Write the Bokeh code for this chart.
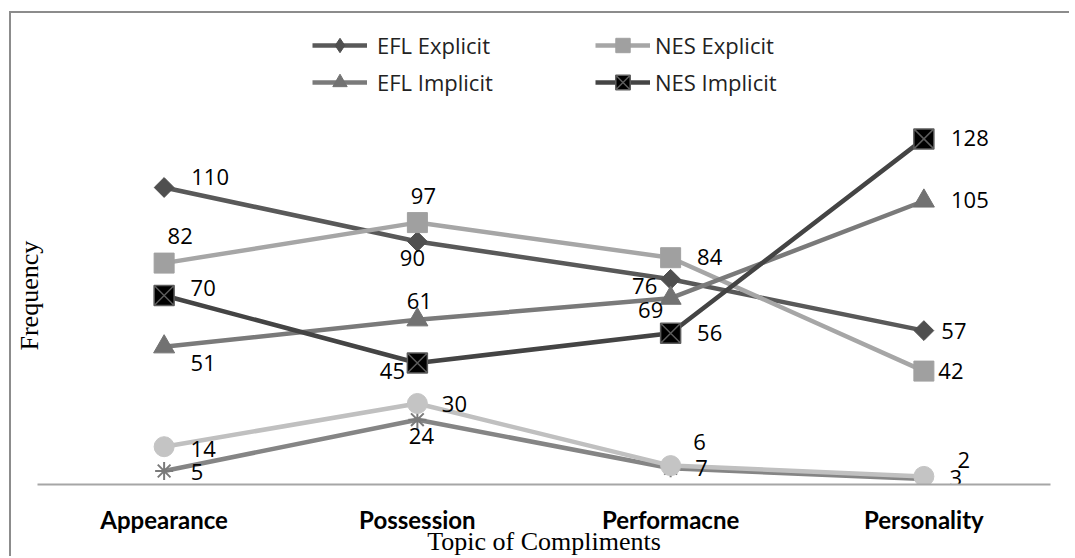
import math
from bokeh.plotting import figure
from bokeh.models import Range1d, FactorRange, Legend, LegendItem, Title
from bokeh.core.properties import value
from bokeh.embed import file_html
from bokeh.resources import INLINE

# ---- data ----
categories = ["Appearance", "Possession", "Performacne", "Personality"]
efl_explicit = [110, 90, 76, 57]
nes_explicit = [82, 97, 84, 42]
efl_implicit = [51, 61, 69, 105]
nes_implicit = [70, 45, 56, 128]
series_circle = [14, 30, 7, 3]
series_star = [5, 24, 6, 2]

# ---- label placement (screen px offsets) ----
off_efl_exp = ([46, -5, -26, 30], [-10, 17, 7, 0])
off_nes_exp = ([16, 6, 39, 27], [-27, -27, -1, 0])
off_efl_imp = ([39, 2, -20, 46], [16, -19, 12, -1])
off_nes_imp = ([39, -25, 39, 46], [-7, 8, 0, -1])
off_circle = ([39, 37, 31, 32], [2, 1, 2, 2])
off_star = ([33, 4, 29, 40], [1, 16, -26, -19])

p = figure(width=1060, height=545, output_backend="svg", toolbar_location=None,
           x_range=FactorRange(*categories), y_range=Range1d(0, 171.85),
           min_border_left=26, min_border_right=21, min_border_top=7, min_border_bottom=74,
           background_fill_color="white", border_fill_color="white")
p.styles = {"border-top": "2px solid #8c8c8c", "border-left": "2px solid #8c8c8c",
            "margin-top": "11px", "margin-left": "9px", "margin-bottom": "-20px"}
p.outline_line_color = None
p.xgrid.grid_line_color = None
p.ygrid.grid_line_color = None
p.yaxis.visible = False

xa = p.xaxis[0]
xa.axis_line_color = "#a6a6a6"
xa.axis_line_width = 2
xa.major_tick_line_color = None
xa.minor_tick_line_color = None
xa.major_label_text_font = "Lato"
xa.major_label_text_font_style = "bold"
xa.major_label_text_font_size = "24px"
xa.major_label_text_color = "black"
xa.major_label_standoff = 14
xa.axis_label = "Topic of Compliments"
xa.axis_label_text_font = "Liberation Serif"
xa.axis_label_text_font_style = "normal"
xa.axis_label_text_font_size = "26px"
xa.axis_label_text_color = "black"
xa.axis_label_standoff = -10

ytitle = Title(text="Frequency", align="left", vertical_align="bottom", offset=134, standoff=-12,
               text_font="Liberation Serif", text_font_style="normal", text_font_size="26px",
               text_color="black")
p.add_layout(ytitle, "left")

LW = 4.5
renderers = {}

def series(name, vals, color, marker, size, fill, mline, angle=0.0, mlw=1.0, legend_marker=None):
    ln = p.line(categories, vals, line_color=color, line_width=LW)
    sc = p.scatter(categories, vals, marker=marker, size=size, fill_color=fill,
                   line_color=mline, line_width=mlw, angle=angle)
    if legend_marker is not None:
        # zero-size twin: invisible in the plot, drawn at legend size in the legend
        proxy = p.scatter(categories, vals, marker=legend_marker, size=0, fill_color=fill,
                          line_color=mline, line_width=mlw)
        renderers[name] = [ln, proxy]
    else:
        renderers[name] = [ln, sc]

series("EFL Explicit", efl_explicit, "#595959", "square", 14, "#4f4f4f", "#4f4f4f",
       angle=math.pi / 4, legend_marker="diamond")
series("NES Explicit", nes_explicit, "#a6a6a6", "square", 20, "#a0a0a0", "#a0a0a0")
series("EFL Implicit", efl_implicit, "#7a7a7a", "triangle", 21, "#727272", "#727272")
series("NES Implicit", nes_implicit, "#444444", "square_x", 20, "black", "#5c5c5c", mlw=1.5)
series("star", series_star, "#858585", "asterisk", 18, None, "#7a7a7a", mlw=2)
series("circle", series_circle, "#c0c0c0", "circle", 20, "#c4c4c4", "#c4c4c4")

def labels(vals, offs):
    p.text(categories, vals, text=[str(v) for v in vals], x_offset=offs[0], y_offset=offs[1],
           text_align="center", text_baseline="middle", text_font=value("Open Sans"),
           text_font_size="22px", text_color="black")

labels(efl_explicit, off_efl_exp)
labels(nes_explicit, off_nes_exp)
labels(efl_implicit, off_efl_imp)
labels(nes_implicit, off_nes_imp)
labels(series_circle, off_circle)
labels(series_star, off_star)

def make_legend(names, loc, standoff):
    lg = Legend(items=[LegendItem(label=n, renderers=renderers[n]) for n in names],
                location=loc, orientation="vertical", padding=0, margin=0, spacing=1,
                glyph_height=36, glyph_width=55, label_standoff=standoff,
                label_text_font="Open Sans", label_text_font_size="22px",
                label_text_color="#222222", border_line_color=None,
                background_fill_alpha=0)
    p.add_layout(lg)

make_legend(["EFL Explicit", "EFL Implicit"], (275, 384), 10)
make_legend(["NES Explicit", "NES Implicit"], (558, 384), 5)

open("out.html", "w").write(file_html(p, INLINE))
